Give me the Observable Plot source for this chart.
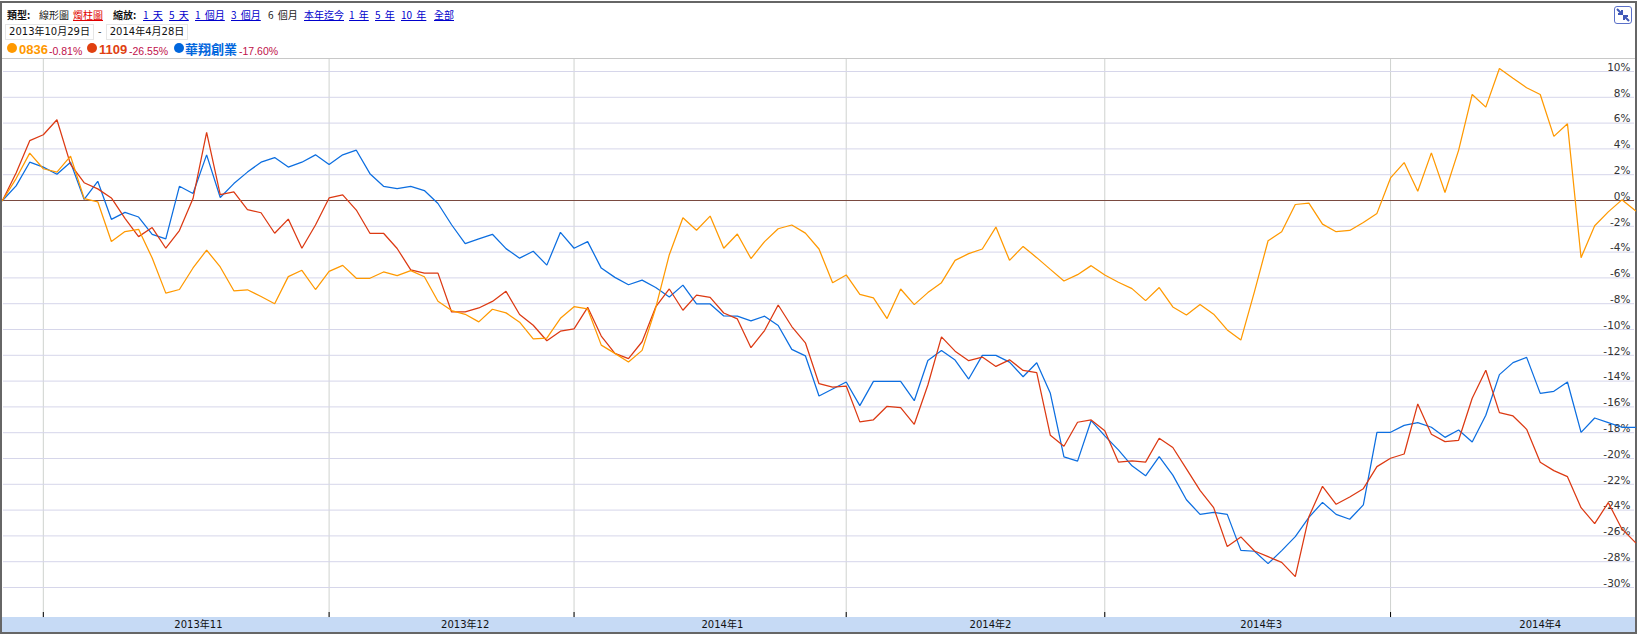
<!DOCTYPE html>
<html><head><meta charset="utf-8">
<script src="https://cdn.jsdelivr.net/npm/d3@7"></script>
<script src="https://cdn.jsdelivr.net/npm/@observablehq/plot@0.6"></script>
<style>
html,body{margin:0;padding:0;background:#fff;overflow:hidden}
#wrap{position:relative;width:1639px;height:635px;overflow:hidden}
#wrap svg.chart{position:absolute;left:0;top:0}
.t{position:absolute;white-space:nowrap;font:10px "Noto Sans CJK TC","Liberation Sans",sans-serif;color:#222;line-height:12px;word-spacing:2px}
.t.a{color:#0000cc;text-decoration:underline}
.t.r{color:#e00000;text-decoration:underline}
.t.b{font-weight:700;color:#111}
.box{position:absolute;border:1px solid #e6e6e6;font:10px "DejaVu Sans","Noto Sans CJK TC",sans-serif;color:#111;height:14px;line-height:14px;text-align:center;white-space:nowrap}
.dot{position:absolute;width:10px;height:10px;border-radius:50%}
.n{position:absolute;white-space:nowrap;font:700 13px "Liberation Sans","Noto Sans CJK TC",sans-serif;line-height:16px}
.p{position:absolute;white-space:nowrap;font:10.5px "Liberation Sans",sans-serif;color:#c0104a;line-height:14px}
</style></head><body><div id="wrap"></div>
<script>
const names = ["0836", "1109", "華翔創業"];
const changes = ["-0.81%", "-26.55%", "-17.60%"];
const colors = ["#ff9900", "#dc3912", "#0c6ee0"];
const legendColors = ["#ff9900", "#e04010", "#0066dd"];

const orange = [0,1.7,3.67,2.46,2.2,3.44,0.15,-0.1,-3.18,-2.41,-2.23,-4.46,-7.18,-6.9,-5.23,-3.85,-5.15,-7.0,-6.92,-7.44,-8.0,-5.9,-5.41,-6.9,-5.49,-5.03,-6.03,-6.03,-5.54,-5.82,
 -5.44,-5.91,-7.81,-8.53,-8.82,-9.41,-8.43,-8.71,-9.43,-10.72,-10.67,-9.13,-8.23,-8.41,-11.21,-11.85,-12.52,-11.62,-8.33,-4.2,-1.34,-2.31,-1.21,-3.7,-2.6,-4.5,-3.19,-2.19,-1.9,-2.53,
 -3.76,-6.37,-5.77,-7.27,-7.55,-9.15,-6.86,-8.07,-7.14,-6.37,-4.64,-4.12,-3.76,-2.06,-4.64,-3.56,-4.43,-5.34,-6.24,-5.75,-5.05,-5.77,-6.34,-6.83,-7.76,-6.75,-8.25,-8.87,-8.07,-8.81,
 -10.03,-10.82,-7.06,-3.12,-2.42,-0.31,-0.21,-1.83,-2.42,-2.32,-1.7,-1.0,1.75,2.94,0.72,3.69,0.62,3.89,8.22,7.24,10.23,9.48,8.74,8.22,4.97,5.95,-4.43,-1.96,-0.88,0.05,-0.8];
const red = [0,2.13,4.64,5.1,6.26,2.8,1.38,0.9,0.2,-1.38,-2.8,-2.1,-3.7,-2.33,0.15,5.28,0.46,0.67,-0.7,-0.95,-2.54,-1.44,-3.7,-1.9,0.2,0.44,-0.74,-2.54,-2.54,-3.72,
 -5.38,-5.63,-5.63,-8.64,-8.64,-8.33,-7.82,-7.04,-8.84,-9.67,-10.87,-10.13,-9.95,-8.28,-10.51,-11.85,-12.26,-10.95,-8.25,-6.86,-8.51,-7.33,-7.51,-8.72,-9.18,-11.41,-10.08,-8.1,-9.77,-11.03,
 -14.2,-14.46,-14.38,-17.16,-17.0,-15.95,-16.06,-17.35,-14.3,-10.57,-11.68,-12.42,-12.14,-12.86,-12.35,-13.17,-13.35,-18.2,-19.05,-17.19,-17.01,-17.84,-20.28,-20.18,-20.28,-18.43,-19.15,-20.8,-22.47,-23.81,
 -26.83,-26.08,-27.17,-27.61,-28.05,-29.16,-24.51,-22.16,-23.55,-22.98,-22.34,-20.63,-19.98,-19.65,-15.77,-18.12,-18.69,-18.59,-15.33,-13.16,-16.44,-16.7,-17.74,-20.29,-20.94,-21.41,-23.81,-25.05,-23.42,-25.46,-26.52];
const blue = [0,1.13,2.97,2.59,2.03,2.97,0.08,1.49,-1.46,-0.92,-1.28,-2.62,-2.97,1.1,0.54,3.54,0.23,1.31,2.2,2.97,3.33,2.59,2.97,3.54,2.79,3.54,3.9,2.08,1.1,0.92,
 1.1,0.77,-0.23,-1.88,-3.34,-2.98,-2.62,-3.73,-4.47,-3.93,-5.01,-2.47,-3.7,-3.19,-5.24,-5.96,-6.53,-6.17,-6.74,-7.48,-6.56,-8.02,-8.02,-8.95,-8.97,-9.33,-8.97,-9.69,-11.54,-12.04,
 -15.15,-14.61,-14.07,-15.9,-14.02,-14.02,-14.02,-15.52,-12.4,-11.62,-12.37,-13.84,-12.01,-12.01,-12.53,-13.66,-12.58,-14.95,-19.87,-20.2,-17.06,-18.25,-19.33,-20.57,-21.34,-19.85,-21.29,-23.2,-24.33,-24.17,
 -24.33,-27.12,-27.19,-28.15,-27.14,-26.06,-24.56,-23.4,-24.33,-24.71,-23.6,-17.97,-17.97,-17.43,-17.22,-17.58,-18.36,-17.79,-18.72,-16.65,-13.5,-12.57,-12.16,-14.95,-14.79,-14.07,-17.97,-16.86,-17.22,-17.58,-17.58];

const yTicks = [10,8,6,4,2,0,-2,-4,-6,-8,-10,-12,-14,-16,-18,-20,-22,-24,-26,-28,-30];
const monthStarts = [3,24,42,62,81,102];
const monthLabels = ["2013年11","2013年12","2014年1","2014年2","2014年3","2014年4"];
const monthLabelPos = [14.4,34,52.9,72.6,92.5,113];

const gridY = yTicks.filter(d => d !== 0);
const series = (vals) => vals.map((v,i) => ({i, v}));
const line = (vals, c) => Plot.line(series(vals), {x:"i", y:"v", stroke:c, strokeWidth:1.25, strokeLinejoin:"miter", curve:"linear"});

const chart = Plot.plot({
  width:1639, height:635, margin:0,
  style:{background:"transparent", overflow:"visible"},
  x:{domain:[0,120], range:[2,1635], axis:null},
  y:{domain:[10,-30], range:[71,587], axis:null},
  marks:[
    Plot.ruleX(monthStarts,{y1:10.93, y2:-32.33, stroke:"#cfd2cf", strokeWidth:1}),
    Plot.ruleY(gridY,{x1:0.07,x2:119.93, stroke:"#d6d6ea", strokeWidth:1}),
    Plot.ruleX(monthStarts,{y1:-31.94, y2:-32.33, stroke:"#000", strokeWidth:1}),
    Plot.ruleY([0],{x1:0.07,x2:119.93, stroke:"#7a4a40", strokeWidth:1}),
    Plot.text(yTicks,{x:()=>120, y:d=>d, dx:-5, dy:-4, text:d=>d+"%", textAnchor:"end", fill:"#333", fontSize:10.5, fontFamily:"DejaVu Sans"}),
    line(blue, colors[2]),
    line(red, colors[1]),
    line(orange, colors[0]),
    Plot.text(monthLabels,{x:(d,i)=>monthLabelPos[i], y:()=>-32.9, text:d=>d, fill:"#111", fontSize:10, fontFamily:"DejaVu Sans, Noto Sans CJK TC"})
  ]
});
chart.setAttribute("class","chart");

const wrap = document.getElementById("wrap");
function add(cls, left, top, txt, extra){
  const e = document.createElement("div");
  e.className = cls; e.style.left = left+"px"; e.style.top = top+"px";
  if (txt != null) e.textContent = txt;
  if (extra) Object.assign(e.style, extra);
  wrap.appendChild(e); return e;
}
function block(l,t,w,h,bg){ add("",0,0,null,{position:"absolute",left:l+"px",top:t+"px",width:w+"px",height:h+"px",background:bg}); }
block(0,1,1637,2,"#666");
block(0,1,2,633,"#666");
block(1635,1,2,633,"#666");
block(2,58,1633,1,"#c8c8c8");
block(2,617,1633,15,"#c6daf5");
block(0,632,1637,2,"#666");
wrap.appendChild(chart);

[["類型:",7,"b"],["線形圖",39,""],["燭柱圖",73,"r"],["縮放:",113,"b"],["1 天",143,"a"],["5 天",169,"a"],["1 個月",195,"a"],["3 個月",231,"a"],["6 個月",268,""],["本年迄今",304,"a"],["1 年",349,"a"],["5 年",375,"a"],["10 年",401,"a"],["全部",434,"a"]]
  .forEach(([s,x,c]) => add("t "+c, x, 9, s));
add("box", 5, 24, "2013年10月29日", {width:"87px"});
add("t", 98, 25, "-");
add("box", 106, 24, "2014年4月28日", {width:"80px"});

const lx = [[7,19,49],[87,99,129],[174,185,239]];
names.forEach((n,i)=>{
  add("dot", lx[i][0], 43, null, {background:legendColors[i]});
  add("n", lx[i][1], 42, n, {color:legendColors[i]});
  add("p", lx[i][2], 44, changes[i]);
});

const ns="http://www.w3.org/2000/svg";
const ic=document.createElementNS(ns,"svg");
ic.setAttribute("width","20");ic.setAttribute("height","20");
ic.style.cssText="position:absolute;left:1613px;top:5px";
ic.innerHTML='<rect x="1.5" y="1.5" width="17" height="17" rx="2.5" fill="#fff" stroke="#5a70c8"/><path d="M4 4 L9 9 M9 5 L9 9 L5 9 M16 16 L11 11 M11 15 L11 11 L15 11" stroke="#3f58b8" stroke-width="2" fill="none"/>';
wrap.appendChild(ic);
</script></body></html>
